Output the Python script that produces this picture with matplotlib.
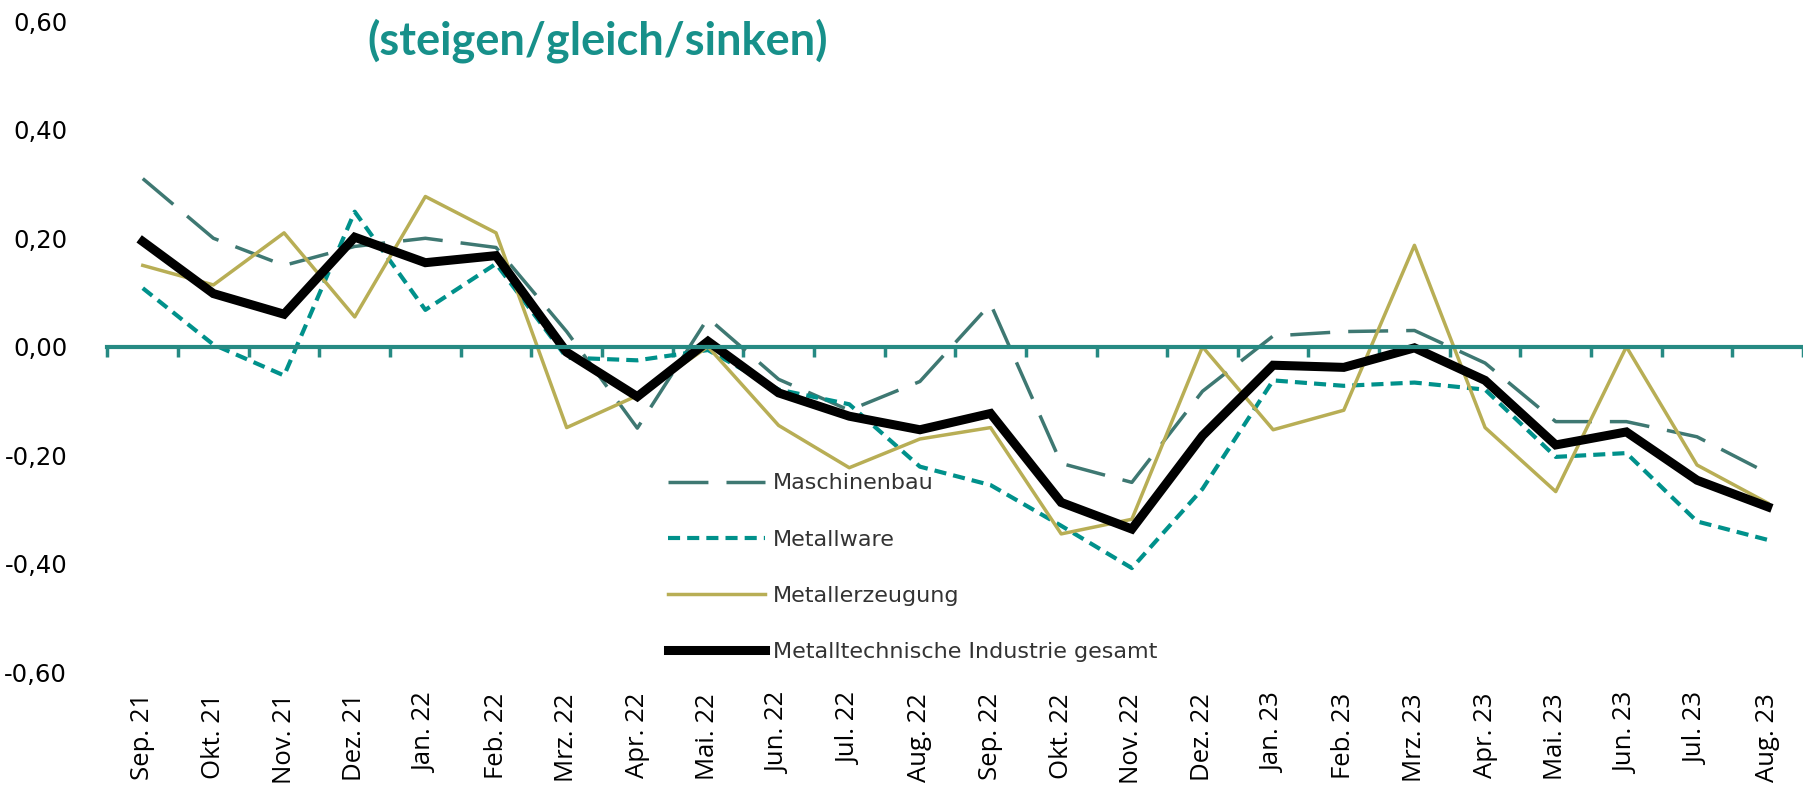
import numpy as np
import matplotlib
matplotlib.use("Agg")
import matplotlib.pyplot as plt

months = ["Sep. 21", "Okt. 21", "Nov. 21", "Dez. 21", "Jan. 22", "Feb. 22",
          "Mrz. 22", "Apr. 22", "Mai. 22", "Jun. 22", "Jul. 22", "Aug. 22",
          "Sep. 22", "Okt. 22", "Nov. 22", "Dez. 22", "Jan. 23", "Feb. 23",
          "Mrz. 23", "Apr. 23", "Mai. 23", "Jun. 23", "Jul. 23", "Aug. 23"]

maschinenbau = [0.31, 0.20, 0.15, 0.185, 0.20, 0.183, 0.028, -0.15, 0.053, -0.06,
                -0.117, -0.064, 0.079, -0.215, -0.25, -0.082, 0.02, 0.028, 0.03,
                -0.03, -0.138, -0.138, -0.166, -0.233]
metallware = [0.108, 0.004, -0.053, 0.249, 0.068, 0.153, -0.02, -0.025, -0.006,
              -0.079, -0.106, -0.221, -0.255, -0.33, -0.408, -0.262, -0.062,
              -0.072, -0.066, -0.079, -0.203, -0.196, -0.322, -0.356]
metallerzeugung = [0.15, 0.114, 0.21, 0.055, 0.277, 0.21, -0.149, -0.09, 0.0,
                   -0.145, -0.223, -0.17, -0.149, -0.345, -0.318, 0.0, -0.153,
                   -0.117, 0.187, -0.149, -0.267, 0.0, -0.218, -0.288]
gesamt = [0.194, 0.098, 0.06, 0.202, 0.155, 0.168, -0.01, -0.092, 0.01, -0.085,
          -0.128, -0.153, -0.123, -0.287, -0.336, -0.164, -0.034, -0.038, -0.002,
          -0.062, -0.181, -0.157, -0.246, -0.295]

teal_axis = "#268a83"
c_masch = "#3e7872"
c_ware = "#00918b"
c_erz = "#b8ae55"

fig = plt.figure(figsize=(18.03, 7.89), dpi=100)
ax = fig.add_axes([0.0596, 0.148, 1 - 0.0596, 0.825])

x = np.arange(len(months))
ax.plot(x, maschinenbau, color=c_masch, lw=2.5, ls=(0, (11.5, 5.2)),
        label="Maschinenbau")
ax.plot(x, metallware, color=c_ware, lw=3, ls=(0, (2.9, 1.7)),
        label="Metallware")
ax.plot(x, metallerzeugung, color=c_erz, lw=2.5, label="Metallerzeugung")
ax.plot(x, gesamt, color="black", lw=6.5, solid_joinstyle="miter",
        label="Metalltechnische Industrie gesamt")

ax.set_xlim(-0.5, 23.24)
ax.set_ylim(-0.6, 0.6)
ax.set_yticks([-0.6, -0.4, -0.2, 0.0, 0.2, 0.4, 0.6])
ax.set_yticklabels([f"{v:.2f}".replace(".", ",") for v in ax.get_yticks()],
                   fontsize=17.5)
ax.tick_params(axis="y", length=0, pad=29)

# zero line with category boundary ticks
for s in ["top", "right", "left"]:
    ax.spines[s].set_visible(False)
ax.spines["bottom"].set_position(("data", 0))
ax.spines["bottom"].set_color(teal_axis)
ax.spines["bottom"].set_linewidth(3)
ax.set_xticks(np.arange(-0.5, len(months), 1.0))
ax.set_xticklabels([])
ax.tick_params(axis="x", direction="out", length=7, width=2.5, color=teal_axis)

# category labels at the bottom
sec = ax.secondary_xaxis("bottom")
sec.set_xticks(x)
sec.set_xticklabels(months, rotation=90, fontsize=18.5, family="Open Sans")
sec.tick_params(length=0, pad=15)
sec.spines["bottom"].set_visible(False)

fig.text(0.2036, 0.949, "(steigen/gleich/sinken)", family="Lato",
         fontweight="bold", fontsize=32.5, color="#17908a", va="center")

ax.legend(loc="upper left", bbox_to_anchor=(0.3705, 0.40),
          bbox_transform=fig.transFigure, frameon=False, fontsize=16,
          handlelength=4.37, handletextpad=0.36, labelspacing=1.63,
          borderpad=0, borderaxespad=0, labelcolor="#333333")

fig.savefig("out.png", dpi=100)
